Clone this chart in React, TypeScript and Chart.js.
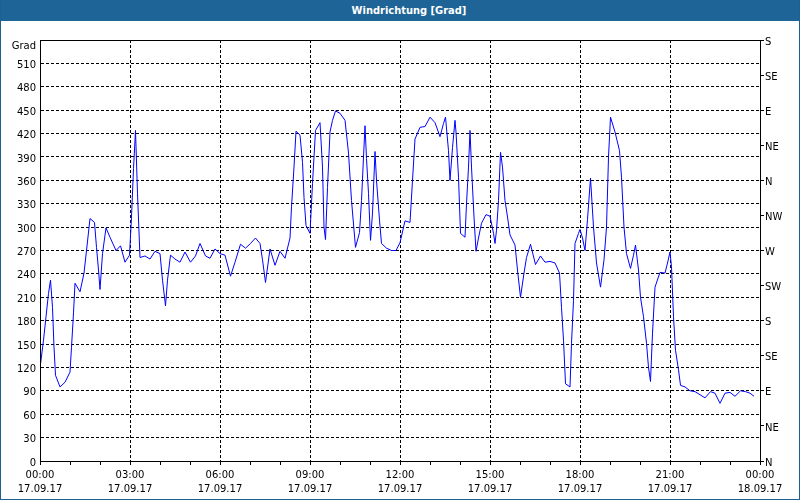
import React, { useEffect, useRef } from "react";
import { Chart, registerables } from "chart.js";

Chart.register(...registerables);

// time of day in minutes (17.09.17 00:00 = 0)
const minutes = [
  0, 7, 12, 17, 21, 25, 28, 31, 40, 50, 60, 63, 67, 70, 80, 88, 93, 100, 109, 113,
  117, 120, 125, 132, 140, 152, 161, 170, 179, 183, 187, 191, 195, 200, 210, 220, 230, 240, 245, 251,
  255, 261, 270, 280, 290, 301, 311, 320, 331, 340, 350, 360, 370, 381, 390, 401, 411, 421, 431, 440,
  445, 451, 460, 470, 480, 490, 500, 503, 508, 512, 520, 525, 528, 532, 540, 545, 551, 560, 565, 568,
  571, 575, 580, 585, 591, 600, 610, 617, 623, 631, 639, 643, 647, 650, 653, 657, 661, 665, 670, 673,
  679, 683, 693, 703, 712, 720, 730, 740, 745, 750, 760, 770, 780, 790, 800, 807, 811, 817, 820, 825,
  830, 832, 837, 841, 850, 853, 857, 860, 863, 868, 872, 877, 883, 892, 900, 907, 910, 913, 917, 921,
  925, 930, 935, 940, 950, 955, 961, 968, 973, 981, 991, 1001, 1010, 1020, 1030, 1039, 1043, 1047, 1051, 1060,
  1063, 1067, 1070, 1077, 1080, 1085, 1090, 1095, 1101, 1107, 1113, 1121, 1128, 1133, 1137, 1141, 1150, 1159, 1163, 1168,
  1173, 1181, 1187, 1191, 1197, 1201, 1207, 1213, 1217, 1221, 1225, 1230, 1240, 1250, 1255, 1260, 1263, 1267, 1271, 1277,
  1281, 1290, 1300, 1310, 1320, 1330, 1341, 1350, 1360, 1370, 1380, 1390, 1401, 1411, 1420, 1428,
];

// wind direction [Grad]
const windDir = [
  119, 155, 185, 215, 232, 197, 146, 110, 95, 101, 114, 146, 190, 228, 217, 241, 270, 311, 306, 274,
  245, 220, 266, 299, 287, 270, 276, 255, 264, 313, 375, 424, 343, 261, 263, 259, 269, 266, 232, 199,
  232, 264, 259, 255, 268, 255, 263, 279, 263, 260, 272, 266, 264, 237, 255, 278, 273, 279, 286, 279,
  258, 229, 272, 251, 269, 260, 286, 326, 377, 423, 418, 383, 338, 302, 292, 356, 424, 434, 377, 300,
  284, 351, 422, 437, 449, 446, 437, 395, 334, 274, 293, 334, 390, 430, 388, 343, 283, 318, 397, 360,
  309, 279, 273, 270, 270, 280, 308, 306, 360, 413, 428, 429, 441, 434, 416, 433, 441, 398, 360, 402,
  437, 422, 364, 292, 287, 330, 377, 424, 377, 313, 269, 286, 305, 316, 314, 292, 279, 296, 334, 396,
  377, 334, 313, 290, 277, 245, 210, 241, 261, 278, 252, 263, 255, 256, 254, 241, 197, 155, 99, 95,
  151, 206, 279, 292, 297, 286, 270, 310, 363, 300, 254, 223, 258, 300, 390, 441, 422, 398, 364, 300,
  266, 247, 264, 277, 245, 210, 185, 151, 120, 102, 164, 223, 242, 241, 254, 268, 249, 185, 142, 117,
  97, 95, 90, 89, 85, 81, 89, 87, 74, 87, 88, 83, 90, 89, 87, 83,
];

const timeLabels = ["00:00", "03:00", "06:00", "09:00", "12:00", "15:00", "18:00", "21:00", "00:00"];
const dateLabels = ["17.09.17", "17.09.17", "17.09.17", "17.09.17", "17.09.17", "17.09.17", "17.09.17", "17.09.17", "18.09.17"];
const compassLabels = ["N", "NE", "E", "SE", "S", "SW", "W", "NW", "N", "NE", "E", "SE", "S"];

const TITLE = "Windrichtung [Grad]";
const UNIT = "Grad";
const FONT = '"DejaVu Sans", Tahoma, sans-serif';
const TITLE_FONT = '"DejaVu Sans Condensed", "DejaVu Sans", Tahoma, sans-serif';

export default function App() {
  const ref = useRef<HTMLCanvasElement | null>(null);

  useEffect(() => {
    if (!ref.current) return;
    const framePlugin = {
      id: "frame",
      afterDraw(chart: any) {
        const { ctx, chartArea } = chart;
        const { left, top, right, bottom } = chartArea;
        ctx.save();
        ctx.strokeStyle = "#000";
        ctx.lineWidth = 1;
        ctx.setLineDash([]);
        ctx.strokeRect(left + 0.5, top + 0.5, right - left, bottom - top);
        const ys = chart.scales.y;
        ctx.fillStyle = "#000";
        ctx.font = "10px " + FONT;
        ctx.textAlign = "right";
        ctx.textBaseline = "middle";
        ctx.fillText(UNIT, left - 4, ys.getPixelForValue(540) + 6);
        ctx.restore();
      },
    };

    const chart = new Chart(ref.current, {
      type: "line",
      data: {
        datasets: [
          {
            data: minutes.map((m, i) => ({ x: m, y: windDir[i] })),
            borderColor: "#0000ff",
            borderWidth: 1,
            pointRadius: 0,
            tension: 0,
            fill: false,
          },
        ],
      },
      options: {
        responsive: false,
        animation: false,
        layout: { padding: { top: 19, left: 0, right: 0, bottom: 0 } },
        plugins: {
          legend: { display: false },
          title: { display: false },
          tooltip: { enabled: false },
        },
        scales: {
          x: {
            type: "linear",
            min: 0,
            max: 1440,
            afterFit: (s: any) => {
              s.height = 38;
            },
            afterBuildTicks: (s: any) => {
              const t = [];
              for (let v = 0; v <= 1440; v += 60) t.push({ value: v });
              s.ticks = t;
            },
            ticks: {
              autoSkip: false,
              maxRotation: 0,
              minRotation: 0,
              padding: 3,
              color: "#000",
              font: { family: FONT, size: 10, lineHeight: 1.4 },
              callback: (v: any) => {
                const n = Number(v);
                if (n % 180 !== 0) return "";
                const i = n / 180;
                return [timeLabels[i], dateLabels[i]];
              },
            },
            grid: {
              color: (c: any) => (c.tick && c.tick.value % 180 === 0 ? "#000" : "rgba(0,0,0,0)"),
              tickColor: "#000",
              tickLength: 4,
              drawTicks: true,
              tickBorderDash: [],
            },
            border: { display: true, color: "#000", dash: [3, 2] },
          },
          y: {
            position: "left",
            min: 0,
            max: 540,
            afterFit: (s: any) => {
              s.width = 39;
            },
            ticks: {
              stepSize: 30,
              padding: 4,
              labelOffset: 2,
              color: "#000",
              font: { family: FONT, size: 10 },
              callback: (v: any) => (Number(v) === 540 ? "" : String(v)),
            },
            grid: { color: "#000", drawTicks: false },
            border: { display: true, color: "#000", dash: [3, 2] },
          },
          y2: {
            position: "right",
            min: 0,
            max: 540,
            afterFit: (s: any) => {
              s.width = 39;
            },
            ticks: {
              stepSize: 45,
              padding: 1,
              labelOffset: 2,
              color: "#000",
              font: { family: FONT, size: 10 },
              callback: (v: any) => compassLabels[Math.round(Number(v) / 45)],
            },
            grid: {
              drawOnChartArea: false,
              drawTicks: true,
              tickLength: 4,
              tickColor: "#000",
              color: "#000",
            },
            border: { display: true, color: "#000" },
          },
        },
      },
      plugins: [framePlugin],
    } as any);
    return () => chart.destroy();
  }, []);

  return (
    <div
      style={{
        position: "absolute",
        left: 0,
        top: 0,
        width: 800,
        height: 500,
        boxSizing: "border-box",
        border: "1px solid #1d6194",
        borderTop: "none",
        background: "#fff",
        overflow: "hidden",
      }}
    >
      <div
        style={{
          height: 21,
          background: "#1e6496",
          color: "#fff",
          font: "bold 11px " + TITLE_FONT,
          lineHeight: "21px",
          textAlign: "center",
          paddingLeft: 18,
          whiteSpace: "nowrap",
        }}
      >
        {TITLE}
      </div>
      <canvas ref={ref} width={798} height={478} style={{ display: "block" }} />
    </div>
  );
}
